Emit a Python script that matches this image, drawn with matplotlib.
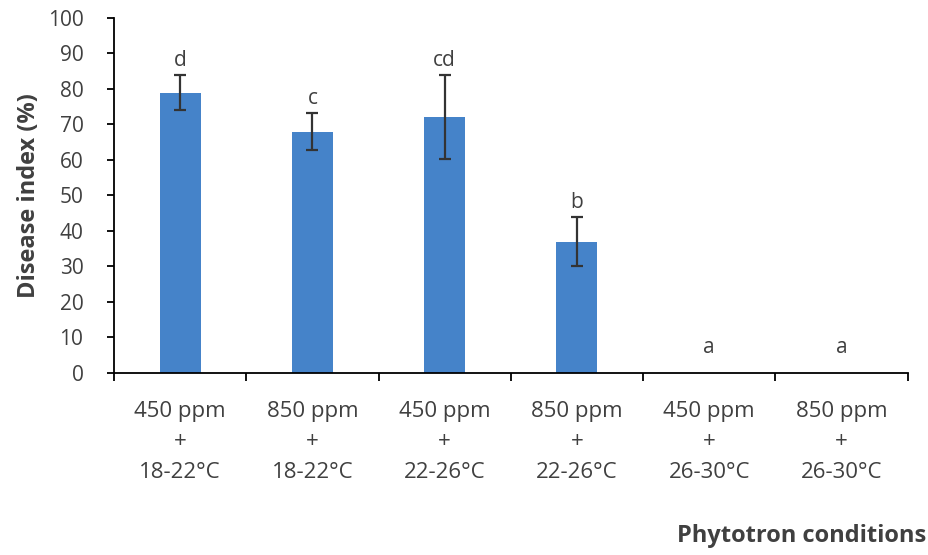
import matplotlib
matplotlib.use('Agg')
import matplotlib.pyplot as plt
import numpy as np

# data
conditions = ['450 ppm\n+\n18-22°C', '850 ppm\n+\n18-22°C', '450 ppm\n+\n22-26°C',
              '850 ppm\n+\n22-26°C', '450 ppm\n+\n26-30°C', '850 ppm\n+\n26-30°C']
disease_index = [79, 68, 72, 37, 0, 0]
errors = [5, 5.3, 11.8, 7, 0, 0]
letters = ['d', 'c', 'cd', 'b', 'a', 'a']

plt.rcParams['font.family'] = ['Open Sans', 'DejaVu Sans']
text_col = '#404040'

fig = plt.figure(figsize=(9.29, 5.55), dpi=100)
ax = fig.add_axes([0.1227, 0.328, 0.977 - 0.1227, 0.9676 - 0.328])

x = np.arange(len(conditions))
ax.bar(x, disease_index, width=0.31, color='#4583c9', zorder=2)
ax.errorbar(x[:4], disease_index[:4], yerr=errors[:4], fmt='none', ecolor='#333333',
            elinewidth=1.6, capsize=4, capthick=1.6, zorder=3)

for xi, m, e, lab in zip(x, disease_index, errors, letters):
    ax.annotate(lab, (xi, max(m + e, 3)), xytext=(0, 3), textcoords='offset points',
                ha='center', va='bottom', fontsize=15, color=text_col)

ax.set_xlim(-0.5, 5.5)
ax.set_ylim(0, 100)
ax.set_yticks(range(0, 101, 10))
ax.tick_params(axis='y', direction='out', length=5, width=1.3, labelsize=15,
               labelcolor=text_col, pad=17)

# category boundaries as ticks, labels centred under bars
ax.set_xticks(np.arange(-0.5, 6, 1))
ax.set_xticklabels([])
ax.tick_params(axis='x', which='major', direction='out', length=6, width=1.3)
ax.set_xticks(x, minor=True)
ax.set_xticklabels(conditions, minor=True, fontsize=16, color=text_col, linespacing=1.6)
ax.tick_params(axis='x', which='minor', length=0, pad=20)

for s in ['top', 'right']:
    ax.spines[s].set_visible(False)
for s in ['left', 'bottom']:
    ax.spines[s].set_linewidth(1.3)
    ax.spines[s].set_color('black')

ax.set_ylabel('Disease index (%)', fontsize=17, fontweight='bold', color=text_col, labelpad=5)
fig.text(0.997, 0.035, 'Phytotron conditions', ha='right', va='center',
         fontsize=17, fontweight='bold', color=text_col)

fig.savefig('out.png', dpi=100)
